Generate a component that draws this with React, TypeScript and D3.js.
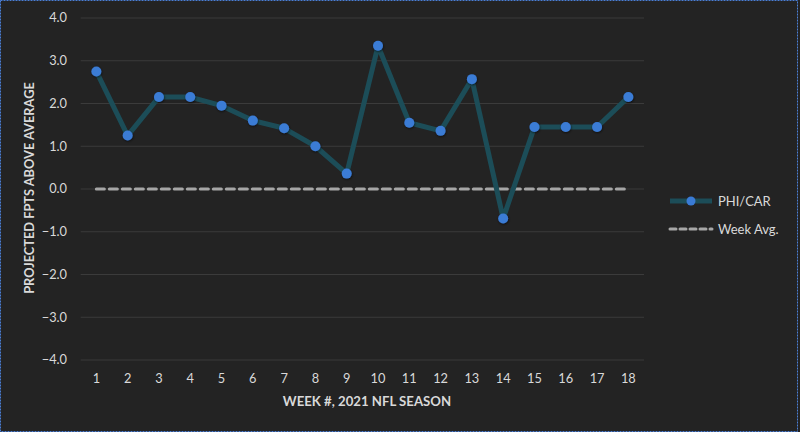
import React from "react";
import * as d3 from "d3";

const weeks = ["1", "2", "3", "4", "5", "6", "7", "8", "9", "10", "11", "12", "13", "14", "15", "16", "17", "18"];
const phiCar = [2.75, 1.25, 2.15, 2.15, 1.95, 1.6, 1.42, 1.0, 0.36, 3.35, 1.55, 1.36, 2.57, -0.69, 1.45, 1.45, 1.45, 2.15];
const weekAvg = [0, 0, 0, 0, 0, 0, 0, 0, 0, 0, 0, 0, 0, 0, 0, 0, 0, 0];
const yTicks = [4, 3, 2, 1, 0, -1, -2, -3, -4];

const W = 800;
const H = 432;
const FONT = "Lato, 'Open Sans', sans-serif";

const App = () => {
  const x = d3.scaleBand<string>().domain(weeks).range([80.7, 644]);
  const y = d3.scaleLinear().domain([-4, 4]).range([360, 18]);
  const cx = (w: string) => (x(w) ?? 0) + x.bandwidth() / 2;

  const line = d3
    .line<number>()
    .x((_, i) => cx(weeks[i]))
    .y((d) => y(d));

  return (
    <div style={{ position: "absolute", left: 0, top: 0 }}>
      <svg width={W} height={H} style={{ display: "block", fontFamily: FONT }}>
        <defs>
          <filter id="shadow" x="-50%" y="-50%" width="200%" height="200%">
            <feDropShadow dx="0.5" dy="1" stdDeviation="1" floodColor="#000" floodOpacity="0.6" />
          </filter>
        </defs>
        <rect x={0} y={0} width={W} height={H} fill="#232323" />
        <rect x={0.5} y={0.5} width={W - 3} height={H - 1} fill="none" stroke="#4a7fd6" strokeWidth={1} strokeDasharray="2,1" />

        {yTicks.map((t) => (
          <g key={t}>
            <line x1={80.7} x2={644} y1={y(t)} y2={y(t)} stroke="#3b3b3b" strokeWidth={1} />
            <text x={67} y={y(t)} dy="0.35em" textAnchor="end" fill="#d9d9d9" fontSize={12.8}>
              {d3.format(".1f")(t)}
            </text>
          </g>
        ))}

        {weeks.map((w) => (
          <text key={w} x={cx(w)} y={379} dy="0.35em" textAnchor="middle" fill="#d9d9d9" fontSize={12.8}>
            {w}
          </text>
        ))}

        <text x={367} y={401} dy="0.35em" textAnchor="middle" fill="#d9d9d9" fontSize={13.2} fontWeight="bold">
          WEEK #, 2021 NFL SEASON
        </text>
        <text
          transform={`translate(30, 188) rotate(-90)`}
          dy="0.35em"
          textAnchor="middle"
          fill="#d9d9d9"
          fontSize={12.8}
          fontWeight="bold"
        >
          PROJECTED FPTS ABOVE AVERAGE
        </text>

        <path d={line(weekAvg) ?? ""} fill="none" stroke="#a6a6a6" strokeWidth={3} strokeDasharray="8,5" strokeLinecap="round" />

        <path d={line(phiCar) ?? ""} fill="none" stroke="#1c4d58" strokeWidth={5} strokeLinejoin="round" />
        {phiCar.map((v, i) => (
          <circle key={i} cx={cx(weeks[i])} cy={y(v)} r={5} fill="#3a7bd5" filter="url(#shadow)" />
        ))}

        <g>
          <line x1={670} x2={712} y1={201} y2={201} stroke="#1c4d58" strokeWidth={5} />
          <circle cx={691} cy={201} r={4.5} fill="#3a7bd5" />
          <text x={718} y={201} dy="0.35em" fill="#d9d9d9" fontSize={13}>PHI/CAR</text>
          <line x1={670} x2={712} y1={229} y2={229} stroke="#a6a6a6" strokeWidth={3} strokeDasharray="6,4" strokeLinecap="round" />
          <text x={718} y={229} dy="0.35em" fill="#d9d9d9" fontSize={13}>Week Avg.</text>
        </g>
      </svg>
    </div>
  );
};

export default App;
